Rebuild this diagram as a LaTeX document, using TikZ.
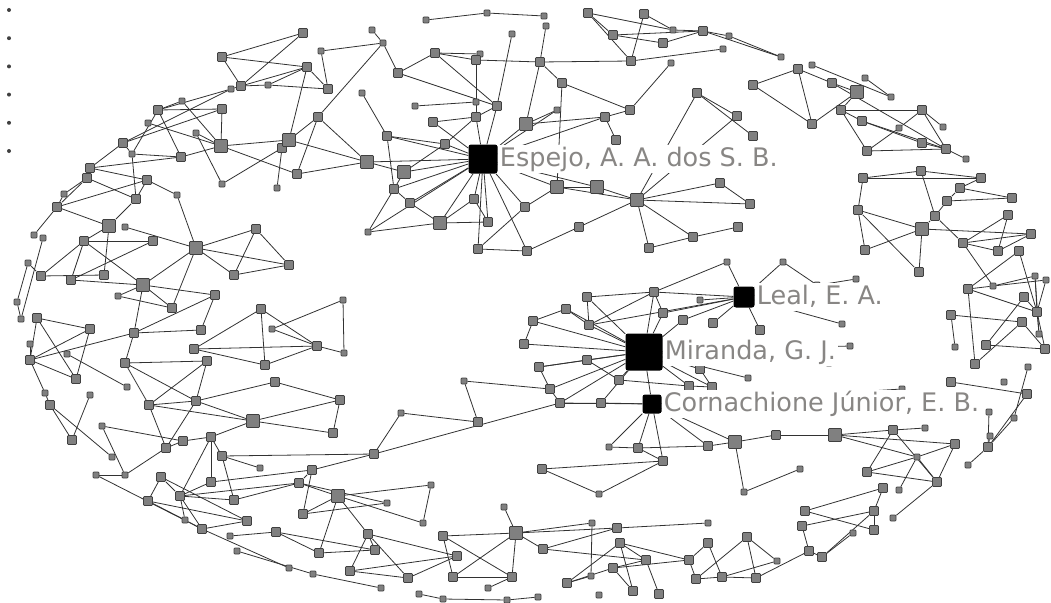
\documentclass[tikz,border=0pt]{standalone}
\usepackage{fontspec}
\setmainfont{DejaVu Sans}
\usetikzlibrary{positioning,backgrounds}
\definecolor{sqfill}{RGB}{128,128,128}
\definecolor{sqline}{RGB}{64,64,64}
\definecolor{linkc}{RGB}{50,50,50}
\definecolor{namec}{RGB}{136,134,132}

\begin{document}
\begin{tikzpicture}[x=1pt,y=-1pt,
  sq/.style={rectangle,rounded corners=0.8pt,fill=sqfill,draw=sqline,line width=0.7pt,inner sep=0pt},
  sqs/.style={sq,minimum size=6pt},
  sqm/.style={sq,minimum size=9pt},
  sql/.style={sq,minimum size=13pt},
  hub/.style={rectangle,rounded corners=2.5pt,fill=black,inner sep=0pt},
  link/.style={draw=linkc,line width=0.8pt},
  authname/.style={fill=white,text=namec,inner sep=2pt,font=\fontsize{25.5}{30}\selectfont,text height=19pt,text depth=5pt},
  dotmark/.style={circle,fill=sqline,inner sep=0pt,minimum size=4pt}]
\useasboundingbox (0,0) rectangle (1051,602);

% the six loose points on the left
\foreach \k in {1,...,6}
  \node[dotmark] (d\k) at (9,{10+28.2*(\k-1)}) {};

% authors with most papers
\node[hub,minimum size=29pt] (esp) at (483,159) {};
\node[hub,minimum size=37pt] (mir) at (644,352) {};
\node[hub,minimum size=21pt] (lea) at (744,297) {};
\node[hub,minimum size=19pt] (cor) at (652,404) {};

\foreach \n/\x/\y in {t3/231/89, t4/268/85, t5/182/101, t8/148/123, t9/196/133, t12/132/154, t17/222/184, t18/64/194, t20/177/195, t29/277/188, t30/321/51, t31/372/30, t32/383/43, t34/362/93,
  e1/487/13, e2/426/20, e3/512/34, e5/480/54, e7/415/106, e8/476/102, e22/368/232, e25/544/16, e26/546/26, e29/557/110, e44/671/63,
  n5/673/30, n7/729/36, n8/723/49, n9/781/57,
  r3/812/65, r6/865/78, r7/891/97, r12/899/128, r13/943/127, r16/966/159, r35/993/286, r36/1035/276, r37/1046/280, r42/955/347, r45/1039/334, r47/1028/367, r49/1004/382, r51/989/412, r52/1014/418, r53/990/436, r55/968/465,
  m1/727/262, m2/783/262, m5/700/300, m17/748/378, m24/817/285, m25/856/279, m26/842/324, m27/850/346, m28/829/363, m29/902/389, m31/464/381,
  c1/609/447, c8/599/494, c9/744/492, c12/925/428, c14/917/457, c16/800/469, c18/899/490, c19/893/518,
  b2/401/413, b8/431/485, b9/387/503, b10/423/523, b16/289/568, b22/504/507, b25/313/574, b26/381/588, b27/488/588, b28/419/594, b29/443/599, b30/507/600, b31/592/523, b33/708/523, b41/591/576, b42/777/561, b47/599/595, b50/538/597, b55/853/533,
  l3/125/227, l4/34/235, l5/43/238, l10/28/263, l16/118/296, l19/17/302, l20/21/319, l26/30/344, l28/67/354, l34/127/387, l35/45/393, l36/90/395, l41/102/426, l46/112/457, l48/260/468, l49/96/475, l50/125/475, l56/185/520, l59/230/536, l60/237/551, l61/272/329, l63/344/353, l64/343/300}
  \node[sqs] (\n) at (\x,\y) {};

\foreach \n/\x/\y in {t1/222/57, t2/241/86, t6/158/110, t7/222/109, t11/123/143, t13/181/157, t14/90/168, t15/87/178, t16/147/180, t19/136/199, t21/57/207, t22/303/33, t23/307/67, t24/328/89, t25/318/117, t27/282/148, t28/297/174, t33/398/73,
  e4/435/53, e6/476/60, e9/497/106, e10/476/117, e11/433/122, e13/387/136, e14/445/144, e16/394/189, e17/410/203, e18/474/199, e19/525/207, e21/488/222, e23/478/249, e24/527/251, e27/540/62, e28/562/83, e30/605/117, e31/630/110, e33/616/140, e37/720/183, e38/750/204, e39/579/227, e40/649/248, e41/693/237, e42/738/227, e43/631/61, e45/697/93, e46/737/116, e47/753/136, e48/753/85,
  n1/588/13, n2/644/14, n3/613/35, n4/663/43, n6/703/31,
  r2/798/69, r4/832/83, r8/841/110, r9/862/121, r10/812/124, r11/922/110, r14/922/143, r15/946/149, r17/867/151, r18/863/178, r19/921/171, r20/981/178, r21/960/188, r22/947/201, r23/1012/198, r24/858/210, r25/935/216, r26/1008/215, r28/1031/234, r29/963/243, r30/998/251, r31/865/250, r32/1019/251, r33/919/272, r34/968/289, r38/1024/297, r39/1037/312, r40/951/315, r41/1022/322, r43/986/345, r44/1045/349, r46/975/364, r48/951/382, r50/1027/394, r54/988/447,
  m3/654/292, m4/587/297, m6/566/309, m7/663/313, m8/533/321, m9/683/320, m10/713/323, m11/589/325, m12/760/330, m13/524/344, m14/587/360, m15/539/367, m16/700/369, m18/619/380, m19/550/389, m20/689/386, m21/712/387, m22/560/403, m23/601/403, m32/478/422,
  c2/638/448, c3/708/446, c5/776/435, c6/663/461, c7/542/469, c11/893/430, c13/955/444, c15/867/472, c17/937/482,
  b1/340/400, b3/333/433, b4/374/454, b5/312/470, b6/299/483, b11/303/514, b12/276/532, b13/368/534, b14/319/553, b15/375/550, b17/350/571, b18/408/578, b19/457/556, b20/443/536, b23/453/577, b24/512/577, b32/617/528, b34/620/543, b35/708/543, b36/747/537, b37/543/549, b38/646/560, b39/689/560, b40/613/568, b43/696/579, b44/722/577, b45/756/578, b46/567/583, b48/633/591, b49/659/594, b51/805/511, b52/874/511, b53/802/526, b54/874/530, b56/809/551, b57/822/557, b58/883/488,
  l6/84/241, l7/153/241, l9/256/229, l11/41/276, l12/71/280, l13/104/275, l15/234/275, l17/172/308, l18/215/295, l21/37/318, l22/90/329, l23/134/333, l24/201/330, l25/261/309, l27/30/360, l29/76/379, l30/125/363, l31/207/361, l32/194/349, l33/265/365, l37/50/405, l38/149/405, l39/196/401, l42/72/440, l43/183/441, l44/211/437, l45/166/448, l47/222/456, l51/161/477, l52/211/482, l53/180/496, l54/148/501, l55/234/500, l57/247/521, l58/202/529, l62/317/346, l65/275/382, l66/289/265}
  \node[sqm] (\n) at (\x,\y) {};

\foreach \n/\x/\y in {t10/221/146, t26/289/140, t35/367/162, e12/526/124, e15/404/172, e20/440/223, e34/557/187, e35/597/187, e36/637/200, r5/857/92, r27/922/229, l2/109/226, l8/196/248, l14/143/285, l40/253/421, b7/338/496, b21/516/533, c4/735/442, c10/835/435}
  \node[sql] (\n) at (\x,\y) {};

\begin{pgfonlayer}{background}
\foreach \b in {t35,e13,e14,e11,e10,e9,e12,e30,e15,e16,e17,e18,e20,e21,e19,e23,e34,e35,e22,e24,e29}
  \draw[link] (esp) -- (\b);
\foreach \b in {m3,m4,m6,m8,m11,m13,m14,m15,m18,m19,m16,m20,m21,m7,m9,m17,cor,m22,m23,m27,m28}
  \draw[link] (mir) -- (\b);
\foreach \b in {m1,m3,m5,m9,m10,m7,m12,m26,m25,m2,m11}
  \draw[link] (lea) -- (\b);
\foreach \b in {c1,c2,c6,m23,m22,c3,c4,m29}
  \draw[link] (cor) -- (\b);

\foreach \a/\b in {t1/t2, t1/t22, t1/t23, t2/t3, t2/t4, t2/t23, t2/t22, t3/t6, t3/t11, t5/t6, t5/t10, t6/t7, t6/t12, t6/t13, t7/t10, t7/t11, t8/t10, t9/t10, t9/t17, t10/t13, t10/t26, t10/t28, t11/t12, t11/t14, t12/t13, t12/t19, t13/t14, t14/t15, t14/t16, t15/t18, t15/t19, t15/t21, t16/t21, t16/t19, t17/t27, t18/t21, t20/t16, t20/l8, t23/t24, t23/t26, t23/t4, t30/t24, t30/t32, t31/t32, t32/t33, t32/t25, t33/e4, t33/e9, t24/t4, t25/t26, t25/t35, t25/t28, t26/t27, t26/t35, t27/t29, t28/t35, t34/e13,
  e1/e2, e1/e25, e3/e9, e4/e6, e4/e5, e4/e9, e5/e6, e6/e8, e6/e27, e7/e8, e8/e10, e10/e9, e10/e11, e13/e14, e13/e16, e14/e10, e15/t35, e15/e16, e15/e14, e16/e17, e16/e22, e17/e20, e20/e22, e20/e21, e20/e18, e21/e18, e23/e24, e23/e19, e26/e27, e27/e43, e27/e28, e27/e12, e28/e31, e28/e34, e29/e12, e30/e12, e30/e31, e30/e33, e31/e44, e43/n1, e43/n2, e43/n8, n1/n3, n1/n5, n3/n4, n4/n6, n5/n6, n6/n7, n6/n9, n2/n5, n7/n9, n3/n6, e45/e46, e45/e47, e45/e36, e46/e36, e48/r2, e48/r10, e34/e35, e35/e36, e34/e36, e36/e37, e36/e38, e37/e38, e36/e39, e36/e40, e36/e41, e39/e24, e41/e40, e41/e42, e34/e19,
  r2/r4, r2/r10, r3/r7, r4/r5, r4/r15, r5/r10, r5/r8, r6/r7, r8/r11, r8/r17, r8/r9, r9/r14, r9/r15, r11/r12, r11/r13, r11/r15, r12/r17, r14/r15, r15/r16, r17/r15, r18/r19, r18/r20, r19/r20, r19/r25, r18/r24, r20/r21, r21/r22, r21/r23, r22/r23, r24/r27, r24/r31, r24/r33, r27/r31, r27/r33, r27/r25, r27/r28, r25/r29, r26/r29, r28/r29, r29/r30, r29/r35, r25/r22, r26/r30, r28/r30, r32/r34, r32/r39, r34/r35, r34/r39, r34/r46, r35/r36, r35/r37, r36/r39, r36/r45, r37/r39, r38/r43, r38/r39, r40/r41, r40/r42, r41/r46, r41/r44, r43/r44, r39/r44, r45/r39, r48/r50, r47/r52, r50/r54, r52/r54, r53/r54, r54/r55, r51/r54,
  m3/m4, m3/m7, m3/m11, m3/m1, m4/m11, m6/m8, m6/m11, m8/m13, m15/m19, m15/m14, m14/m18, m19/m22, m22/m23, m18/m20, m16/m21, m20/m21, m2/m24, m31/m19, m31/m32, m32/b2, b4/m22,
  c1/c2, c2/c3, c2/c6, c3/c4, c4/c5, c5/c10, c4/c9, c6/c7, c6/c8, c7/c8, c9/c16, c10/c11, c10/c13, c10/c14, c11/c12, c11/c17, c11/c15, c14/c15, c14/c13, c14/c17, c14/c18, c13/c17, c15/c17, c17/c19,
  b1/b3, b1/l40, b3/l40, b2/b4, b4/b5, b4/l47, b5/b6, b5/b11, b7/b8, b7/b10, b7/b6, b6/b9, b7/b11, b7/b14, b7/b13, b8/b10, b11/b9, b12/b14, b12/b15, b13/b15, b13/b17, b13/b18, b13/b19, b14/b15, b17/b19, b17/b18, b18/b19, b25/b26, b20/b21, b20/b23, b20/b24, b21/b23, b21/b24, b23/b24, b22/b21, b21/b37, b27/b24, b28/b29, b29/b30, b32/b21, b31/b41, b31/b21, b32/b33, b32/b37, b34/b38, b34/b46, b34/b48, b34/b39, b35/b39, b35/b44, b36/b43, b36/b45, b36/b42, b37/b38, b38/b40, b38/b49, b39/b40, b39/b43, b40/b48, b43/b44, b44/b45, b44/b42, b46/b41, b46/b40, b30/b50, b51/b58, b51/b54, b52/b58, b52/b53, b52/b54, b52/b57, b53/b56, b55/b57, b56/b45, b57/b56, b16/l58, b12/l59, b6/l55, b5/l52, b6/l53, l65/b1, l65/l39,
  t21/l4, t21/l2, l2/t19, l2/l6, l2/l13, l3/l8, l5/l20, l10/l19, l10/l11, l19/l20, l6/l7, l6/l11, l6/l12, l6/l14, l7/l12, l8/l9, l8/l14, l8/l15, l8/l17, l8/l66, l9/l15, l11/l13, l12/l14, l14/l16, l14/l18, l14/l17, l14/l23, l16/l17, l18/l24, l18/l23, l23/l24, l23/l30, l23/l27, l21/l22, l21/l29, l21/l27, l22/l27, l22/l29, l26/l27, l28/l34, l27/l29, l27/l35, l35/l37, l30/l31, l30/l38, l30/l39, l31/l38, l31/l39, l32/l25, l32/l33, l32/l62, l37/l42, l37/l46, l36/l42, l38/l39, l38/l45, l38/l40, l39/l40, l39/l45, l40/l44, l41/l43, l41/l50, l43/l44, l43/l45, l44/l47, l44/l52, l44/l53, l45/l50, l47/l55, l47/l48, l49/l50, l49/l58, l51/l53, l51/l54, l51/l57, l53/l52, l53/l55, l53/l56, l53/l58, l54/l57, l54/l56, l56/l58, l58/l57, l60/b25, l66/l9, l66/l15, l64/l61, l64/l63, l25/l62, l25/l33, l61/l62, l62/l63, l62/l33}
  \draw[link] (\a) -- (\b);
\end{pgfonlayer}

\node[authname,right=0pt of esp] (espname) {Espejo, A. A. dos S. B.};
\node[authname,right=0pt of mir] (mirname) {Miranda, G. J.};
\node[authname,right=0pt of lea] (leaname) {Leal, E. A.};
\node[authname,right=0pt of cor] (corname) {Cornachione Júnior, E. B.};
\end{tikzpicture}
\end{document}
